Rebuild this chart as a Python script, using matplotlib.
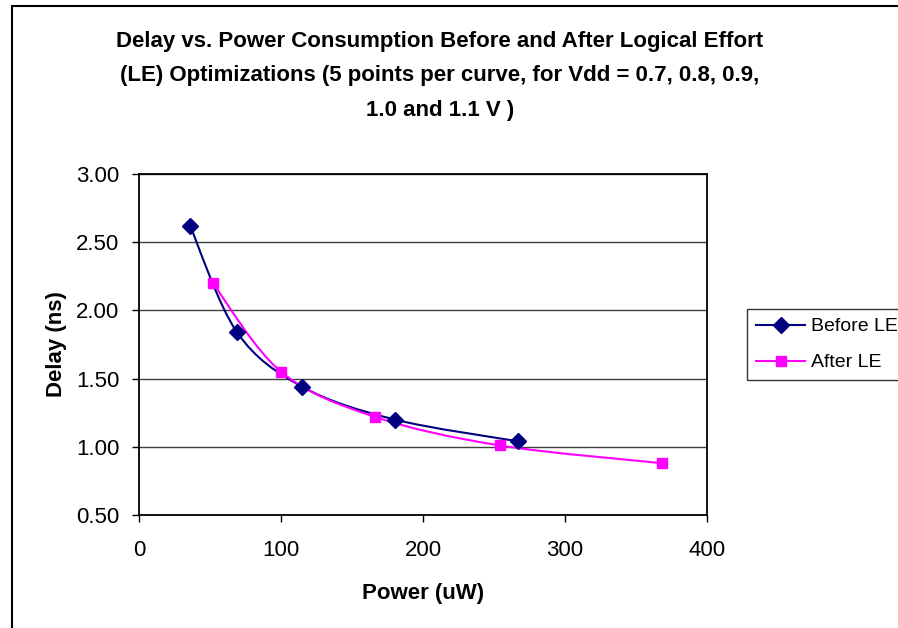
import numpy as np
import matplotlib
matplotlib.use('Agg')
import matplotlib.pyplot as plt
from matplotlib.path import Path
from matplotlib.patches import PathPatch, Rectangle
from matplotlib.lines import Line2D

# data
power_before = [36, 69, 115, 180, 267]
delay_before = [2.62, 1.84, 1.44, 1.20, 1.04]
power_after = [52, 100, 166, 254, 368]
delay_after = [2.20, 1.55, 1.22, 1.01, 0.88]

x_ticks = [0, 100, 200, 300, 400]
y_ticks = [0.50, 1.00, 1.50, 2.00, 2.50, 3.00]

title = ("Delay vs. Power Consumption Before and After Logical Effort\n"
         "(LE) Optimizations (5 points per curve, for Vdd = 0.7, 0.8, 0.9,\n"
         "1.0 and 1.1 V )")

navy = '#000080'
magenta = '#FF00FF'

plt.rcParams['font.family'] = ['Liberation Sans', 'DejaVu Sans']


def smooth_path(x, y, t=1/6.):
    # Excel-style smoothed line: cubic bezier through the points
    pts = np.column_stack([x, y]).astype(float)
    n = len(pts)
    verts = [pts[0]]
    codes = [Path.MOVETO]
    for i in range(n - 1):
        p_prev = pts[max(i - 1, 0)]
        p_next = pts[min(i + 2, n - 1)]
        c1 = pts[i] + (pts[i + 1] - p_prev) * t
        c2 = pts[i + 1] - (p_next - pts[i]) * t
        verts += [c1, c2, pts[i + 1]]
        codes += [Path.CURVE4] * 3
    return Path(verts, codes)


fig = plt.figure(figsize=(8.98, 6.28), dpi=100)
ax = fig.add_axes([139/898, 1 - 515/628, (707-139)/898, (515-174)/628])

ax.add_patch(PathPatch(smooth_path(power_before, delay_before), fc='none',
                       ec=navy, lw=1.5, zorder=3))
ax.add_patch(PathPatch(smooth_path(power_after, delay_after), fc='none',
                       ec=magenta, lw=1.5, zorder=3))
ax.plot(power_before, delay_before, ls='none', marker='D', ms=8.5,
        color=navy, zorder=4)
ax.plot(power_after, delay_after, ls='none', marker='s', ms=7.5,
        color=magenta, zorder=4)

ax.set_xlim(0, 400)
ax.set_ylim(0.5, 3.0)
ax.set_xticks(x_ticks)
ax.set_yticks(y_ticks)
ax.set_yticklabels(["{:.2f}".format(v) for v in y_ticks])
ax.tick_params(direction='out', length=5, width=1, labelsize=16,
               colors='black')
ax.tick_params(axis='x', pad=13)
ax.tick_params(axis='y', pad=9)
ax.yaxis.grid(True, color='#404040', lw=1)
ax.set_axisbelow(True)
for s in ax.spines.values():
    s.set_linewidth(1.3)
    s.set_color('black')

ax.set_xlabel("Power (uW)", fontsize=16, fontweight='bold', labelpad=16)
ax.set_ylabel("Delay (ns)", fontsize=16, fontweight='bold', labelpad=6.5)

fig.text(440/898, 1 - 76/628, title, ha='center', va='center', fontsize=16,
         fontweight='bold', linespacing=1.85)

handles = [Line2D([], [], color=navy, marker='D', ms=8, lw=1.5),
           Line2D([], [], color=magenta, marker='s', ms=7.5, lw=1.5)]
leg = fig.legend(handles, ["Before LE", "After LE"], loc='upper left',
                 bbox_to_anchor=(747/898, 1 - 309/628), fontsize=14,
                 frameon=True, fancybox=False, borderpad=0.45,
                 handlelength=2.55, handletextpad=0.3, labelspacing=0.95,
                 borderaxespad=0)
leg.get_frame().set_edgecolor('black')
leg.get_frame().set_linewidth(1)

fig.add_artist(Rectangle((12/898, -0.1), 1.2, 1.1 - 6/628,
                         transform=fig.transFigure, fill=False,
                         ec='black', lw=1.5))

fig.savefig('out.png', dpi=100)
